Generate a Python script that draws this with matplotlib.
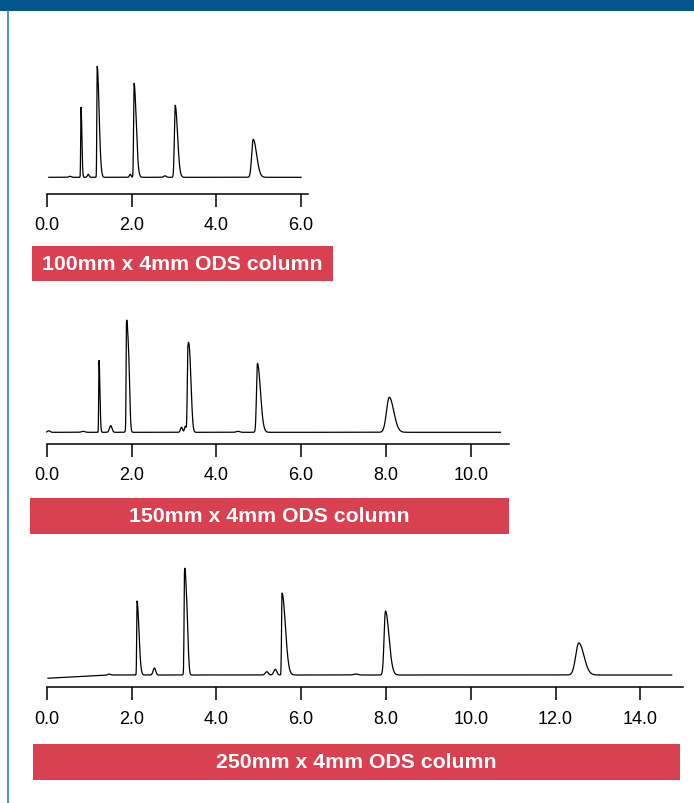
import numpy as np
import matplotlib
matplotlib.use("Agg")
import matplotlib.pyplot as plt
from matplotlib.patches import Rectangle

plt.rcParams['font.family'] = ['Liberation Sans', 'DejaVu Sans']

W, H = 694, 804
PX_PER_MIN = 42.4
X0 = 46.7  # pixel of t = 0.0 on every axis

# --- chromatogram data ---
# peak retention times (min), heights (arbitrary units), left / right widths (min)
p1_t = [0.55, 0.81, 0.98, 1.19, 1.97, 2.06, 2.79, 3.03, 4.87]
p1_h = [1.0, 70, 3, 111, 3, 94, 1.5, 72, 38]
p1_sl = [0.03, 0.008, 0.02, 0.008, 0.02, 0.011, 0.03, 0.019, 0.035]
p1_sr = [0.03, 0.019, 0.02, 0.045, 0.02, 0.050, 0.03, 0.055, 0.080]
ticks1 = [0.0, 2.0, 4.0, 6.0]

p2_t = [0.05, 0.86, 1.235, 1.51, 1.88, 1.935, 3.18, 3.27, 3.33, 3.385, 4.51, 4.97, 8.08]
p2_h = [1.5, 1.0, 72, 6.7, 98, 60, 5, 6, 77, 48, 1.0, 69, 35]
p2_sl = [0.03, 0.04, 0.008, 0.03, 0.008, 0.03, 0.025, 0.02, 0.014, 0.03, 0.04, 0.022, 0.065]
p2_sr = [0.03, 0.04, 0.020, 0.03, 0.030, 0.025, 0.025, 0.02, 0.035, 0.035, 0.04, 0.070, 0.105]
ticks2 = [0.0, 2.0, 4.0, 6.0, 8.0, 10.0]

p3_t = [1.47, 2.13, 2.54, 3.25, 3.305, 5.19, 5.39, 5.55, 7.29, 7.99, 12.55]
p3_h = [1.0, 74, 7, 94, 55, 3.3, 5.7, 82, 1.0, 64, 32]
p3_sl = [0.03, 0.008, 0.03, 0.010, 0.03, 0.035, 0.035, 0.011, 0.05, 0.032, 0.073]
p3_sr = [0.03, 0.045, 0.03, 0.030, 0.03, 0.035, 0.035, 0.078, 0.05, 0.083, 0.120]
ticks3 = [0.0, 2.0, 4.0, 6.0, 8.0, 10.0, 12.0, 14.0]
drift3_t = [0.0, 1.5, 15.0]
drift3_y = [-3.3, 0.0, 0.0]

labels = ["100mm x 4mm ODS column", "150mm x 4mm ODS column", "250mm x 4mm ODS column"]


def trace(t, pt, ph, sl, sr):
    y = np.zeros_like(t)
    for c, h, a, b in zip(pt, ph, sl, sr):
        s = np.where(t < c, a, b)
        y += h * np.exp(-0.5 * ((t - c) / s) ** 2)
    return y


fig = plt.figure(figsize=(W / 100, H / 100), dpi=100)

# header bar and left frame line
fig.add_artist(Rectangle((0, 1 - 12 / H), 1, 12 / H, transform=fig.transFigure,
                         color='#02568c', lw=0))
fig.add_artist(plt.Line2D([7.5 / W, 7.5 / W], [0, 1 - 12 / H], transform=fig.transFigure,
                          color='#3a7dc0', lw=1.2))

# panel layout: axis line y (px), gap axis->baseline, axis end (min), trace span, label box
panels = [
    dict(pt=p1_t, ph=p1_h, sl=p1_sl, sr=p1_sr, ticks=ticks1, axis_y=195, gap=16.7,
         xend=6.17, tr=(0.05, 6.0), box=(32, 247, 333, 282), drift=None),
    dict(pt=p2_t, ph=p2_h, sl=p2_sl, sr=p2_sr, ticks=ticks2, axis_y=445, gap=11.7,
         xend=10.91, tr=(0.0, 10.7), box=(30, 499, 509, 535), drift=None),
    dict(pt=p3_t, ph=p3_h, sl=p3_sl, sr=p3_sr, ticks=ticks3, axis_y=688.3, gap=12.3,
         xend=15.0, tr=(0.03, 14.74), box=(33, 745, 680, 781), drift=(drift3_t, drift3_y)),
]

TOP = 125  # px of headroom above the baseline

for p, lab in zip(panels, labels):
    ay = p['axis_y']
    ax = fig.add_axes([X0 / W, 1 - ay / H, p['xend'] * PX_PER_MIN / W, (p['gap'] + TOP) / H])
    t = np.linspace(p['tr'][0], p['tr'][1], 4000)
    y = trace(t, p['pt'], p['ph'], p['sl'], p['sr'])
    if p['drift'] is not None:
        y += np.interp(t, p['drift'][0], p['drift'][1])
    ax.plot(t, y, color='black', lw=0.9, clip_on=False)
    ax.set_xlim(0, p['xend'])
    ax.set_ylim(-p['gap'], TOP)
    for s in ['top', 'left', 'right']:
        ax.spines[s].set_visible(False)
    ax.spines['bottom'].set_linewidth(1.1)
    ax.set_yticks([])
    ax.set_xticks(p['ticks'])
    ax.set_xticklabels([f"{v:.1f}" for v in p['ticks']])
    ax.tick_params(axis='x', direction='out', length=9.5, width=1.1, pad=6.5, labelsize=13)
    ax.patch.set_visible(False)

    x1, y1, x2, y2 = p['box']
    fig.add_artist(Rectangle((x1 / W, 1 - y2 / H), (x2 - x1) / W, (y2 - y1) / H,
                             transform=fig.transFigure, color='#d94050', lw=0))
    fig.text((x1 + x2) / 2 / W, 1 - (y1 + y2) / 2 / H, lab, color='white',
             fontsize=15.3, fontweight='bold', ha='center', va='center')

fig.savefig("out.png", dpi=100)
